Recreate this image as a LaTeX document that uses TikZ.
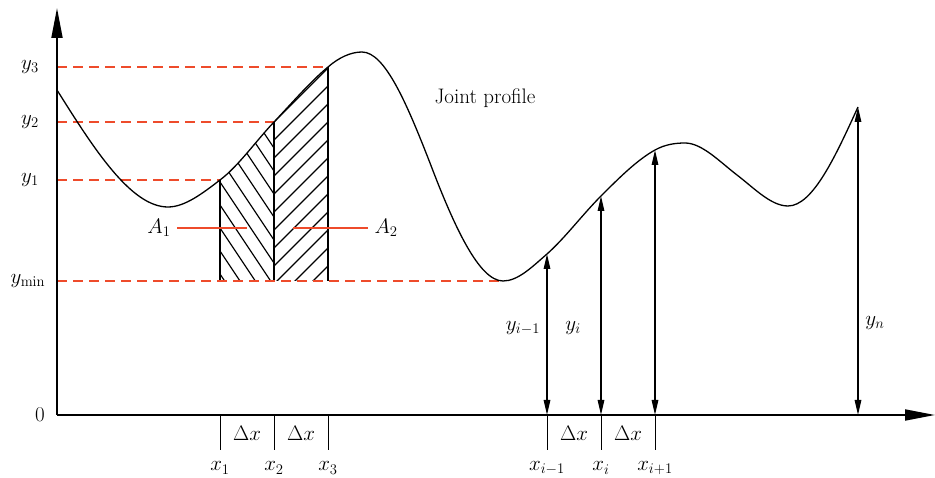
\RequirePackage{fix-cm}
\documentclass[tikz,border=0pt]{standalone}
\usetikzlibrary{arrows.meta}
\definecolor{cred}{HTML}{EE4B2B}
\tikzset{
  every picture/.style={line width=1pt},
  axis/.style={-{Triangle[length=30pt, width=11pt]}, line width=1.8pt},
  ydash/.style={draw=cred, dash pattern=on 10pt off 6pt, line width=1.1pt},
  leader/.style={draw=cred, line width=1.1pt},
  yarrow/.style={{Triangle[length=15pt, width=6.5pt]}-{Triangle[length=15pt, width=6.5pt]}, line width=1.5pt},
  stub/.style={line width=1pt},
  hatch/.style={line width=1.2pt},
  lbl/.style={font=\fontsize{21}{24}\selectfont, inner sep=0pt},
  profile/.style={insert path={(57,90) .. controls (94,149) and (131,207) .. (168,207)
    .. controls (185,207) and (203,193) .. (220,180)
    .. controls (238,166.5) and (256,141) .. (274,122)
    .. controls (292,103) and (310,82) .. (328,67)
    .. controls (339,57.4) and (351,52) .. (362,52)
    .. controls (385,52) and (407,104) .. (430,163)
    .. controls (454,226) and (479,281) .. (503,281)
    .. controls (518,281) and (532,267) .. (547,254)
    .. controls (565,238) and (583,214) .. (601,196)
    .. controls (619,178) and (637,160) .. (655,150)
    .. controls (665,144.5) and (675,143) .. (685,143)
    .. controls (702,143) and (720,162) .. (737,175)
    .. controls (754,188) and (771,206) .. (788,206)
    .. controls (813,206) and (836,155) .. (858,107)}},
}

\begin{document}
\begin{tikzpicture}[x=1pt, y=-1pt]
  \useasboundingbox (0,0) rectangle (935,478);
  % axes
  \coordinate (O) at (57,415);
  \coordinate (xend) at (935,415);
  \coordinate (yend) at (57,8);
  % points on the profile
  \coordinate (p1) at (220,180); \coordinate (p2) at (274,122); \coordinate (p3) at (328,67);
  \coordinate (pmin) at (503,281);
  \coordinate (qa) at (547,254); \coordinate (qb) at (601,196); \coordinate (qc) at (655,150);
  \coordinate (qn) at (858,107);
  % hatched areas
  \begin{scope}
    \clip (220,0) rectangle (274,281);
    \clip[profile] -- (858,281) -- (57,281) -- cycle;
    \foreach \k in {0,...,11}
      \draw[hatch] (220,21+23*\k) -- ++(100,150);
  \end{scope}
  \begin{scope}
    \clip (274,0) rectangle (328,281);
    \clip[profile] -- (858,281) -- (57,281) -- cycle;
    \foreach \k in {0,...,12}
      \draw[hatch] (274,122+18*\k) -- ++(80,-80);
  \end{scope}
  \foreach \p in {p1,p2,p3}
    \draw[hatch] (\p) -- (\p |- pmin);
  % levels
  \draw[ydash] (p1 -| O) -- (p1);
  \draw[ydash] (p2 -| O) -- (p2);
  \draw[ydash] (p3 -| O) -- (p3);
  \draw[ydash] (pmin -| O) -- (pmin);
  \node[lbl] (ly1) at (30,180) {$y_1$};
  \node[lbl] (ly2) at (30,122) {$y_2$};
  \node[lbl] (ly3) at (30,67) {$y_3$};
  \node[lbl] (lymin) at (28,281) {$y_{\min}$};
  \node[lbl] (lzero) at (40,415) {0};
  % profile
  \draw[line width=1.3pt][profile];
  \node[lbl] (joint) at (485,98) {Joint profile};
  % areas
  \coordinate (a1l) at (177,228); \coordinate (a1r) at (247,228);
  \coordinate (a2l) at (293,228); \coordinate (a2r) at (368,228);
  \draw[leader] (a1l) -- (a1r);
  \draw[leader] (a2l) -- (a2r);
  \node[lbl, anchor=east] (la1) at ([xshift=-6pt]a1l) {$A_1$};
  \node[lbl, anchor=west] (la2) at ([xshift=6pt]a2r) {$A_2$};
  % heights
  \foreach \q in {qa,qb,qc,qn}
    \draw[yarrow] (\q |- O) -- (\q);
  \node[lbl] (lya) at (523,328) {$y_{i-1}$};
  \node[lbl] (lyb) at (573,328) {$y_i$};
  \node[lbl] (lyn) at (875,323) {$y_n$};
  % ticks
  \foreach \p/\t in {p1/$x_1$, p2/$x_2$, p3/$x_3$, qa/$x_{i-1}$, qb/$x_i$, qc/$x_{i+1}$} {
    \coordinate (b) at (\p |- O);
    \draw[stub] (b) -- ++(0,35);
    \node[lbl] at ([yshift=-53pt]b) {\t};
  }
  \node[lbl] (dx1) at (247,433) {$\Delta x$};
  \node[lbl] (dx2) at (301,433) {$\Delta x$};
  \node[lbl] (dx3) at (574,433) {$\Delta x$};
  \node[lbl] (dx4) at (628,433) {$\Delta x$};
  \draw[axis] (O) -- (xend);
  \draw[axis] (O) -- (yend);
\end{tikzpicture}
\end{document}
